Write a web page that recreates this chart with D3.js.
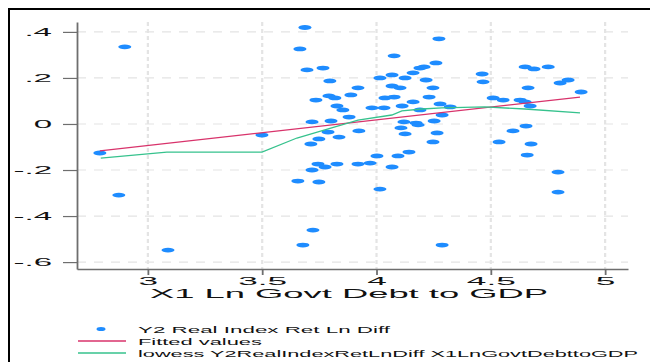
<!DOCTYPE html>
<html>
<head>
<meta charset="utf-8">
<script src="https://cdn.jsdelivr.net/npm/d3@7"></script>
<style>
  body { margin: 0; background: #fff; }
  text { font-family: "Liberation Sans", Arial, sans-serif; }
</style>
</head>
<body>
<div id="chart"></div>
<script>
////////// Data //////////

// scatter: X1 Ln Govt Debt to GDP vs Y2 Real Index Ret Ln Diff
var scatterX = [2.790, 2.899, 2.873, 3.088, 3.499,
  3.687, 3.665, 4.273, 4.077, 3.696, 3.766, 3.796, 4.015, 4.068, 4.125,
  4.160, 4.190, 4.208, 4.260, 4.217, 3.919, 3.888, 4.068, 4.103, 4.247,
  3.735, 3.792, 3.818, 4.037, 4.077, 4.230, 3.827, 3.853, 3.980, 4.033,
  4.112, 4.160, 4.278, 4.190, 3.880, 3.718, 3.801, 3.923, 3.788, 4.120,
  4.173, 4.182, 4.107, 4.252, 4.125, 4.265, 3.748, 3.836, 3.713, 4.247,
  4.142, 4.002, 4.094, 3.744, 3.775, 3.827, 3.919, 3.972, 4.068, 3.718,
  3.656, 3.748, 4.015, 3.722, 3.678, 4.287,
  4.462, 4.466, 4.650, 4.689, 4.751, 4.663, 4.838, 4.803, 4.895, 4.510,
  4.554, 4.628, 4.650, 4.672, 4.322, 4.287, 4.597, 4.654, 4.536, 4.676,
  4.659, 4.794, 4.794]
var scatterY = [-0.126, 0.335, -0.309, -0.548, -0.048,
  0.419, 0.326, 0.370, 0.296, 0.235, 0.243, 0.187, 0.200, 0.213, 0.200,
  0.222, 0.243, 0.248, 0.265, 0.191, 0.157, 0.126, 0.165, 0.157, 0.157,
  0.104, 0.122, 0.113, 0.113, 0.117, 0.117, 0.078, 0.061, 0.070, 0.070,
  0.078, 0.096, 0.087, 0.061, 0.030, 0.009, 0.013, -0.030, -0.035, 0.009,
  0.004, -0.004, -0.017, 0.013, -0.043, -0.039, -0.065, -0.057, -0.087, -0.078,
  -0.122, -0.139, -0.139, -0.174, -0.187, -0.174, -0.174, -0.170, -0.187, -0.200,
  -0.248, -0.252, -0.283, -0.461, -0.526, -0.526,
  0.217, 0.183, 0.248, 0.239, 0.248, 0.157, 0.191, 0.178, 0.139, 0.113,
  0.104, 0.104, 0.096, 0.078, 0.074, 0.039, -0.030, -0.009, -0.078, -0.087,
  -0.135, -0.209, -0.296]

// fitted values (straight line, end points)
var fitX = [2.79, 4.89]
var fitY = [-0.117, 0.117]

// lowess curve
var lowessX = [2.794, 3.083, 3.499, 3.652, 3.774, 3.919, 4.067, 4.111, 4.199, 4.286, 4.474, 4.649, 4.890]
var lowessY = [-0.148, -0.122, -0.122, -0.061, -0.026, 0.017, 0.039, 0.057, 0.065, 0.070, 0.074, 0.065, 0.048]

var xTicks = [3, 3.5, 4, 4.5, 5]
var yTicks = [0.4, 0.2, 0, -0.2, -0.4, -0.6]
var xTitle = "X1 Ln Govt Debt to GDP"
var legendLabels = ["Y2 Real Index Ret Ln Diff", "Fitted values",
  "lowess Y2RealIndexRetLnDiff X1LnGovtDebttoGDP"]

////////// Drawing //////////

var width = 650, height = 362
var dotColor = "#1e8cff", fitColor = "#d8336b", lowColor = "#36c28d"
var axisColor = "#6e6e6e", gridColor = "#e4e4e4"

var svg = d3.select("#chart").append("svg")
  .attr("width", width)
  .attr("height", height)

svg.append("rect").attr("width", width).attr("height", height).attr("fill", "#fff")

// outer frame (only top and left are visible)
svg.append("rect")
  .attr("x", 9).attr("y", 9)
  .attr("width", 700).attr("height", 400)
  .attr("fill", "none")
  .attr("stroke", "#000")
  .attr("stroke-width", 2)

var x = d3.scaleLinear().domain([2.69, 5.10]).range([77, 628])
var y = d3.scaleLinear().domain([-0.63, 0.443]).range([269, 22])

// stretch a text horizontally (the source picture is widened)
function stretch(sel, k) {
  sel.each(function() {
    var len = this.getComputedTextLength()
    d3.select(this).attr("textLength", len * k).attr("lengthAdjust", "spacingAndGlyphs")
  })
}

// grid
svg.append("g").selectAll("line")
  .data(yTicks)
  .enter().append("line")
  .attr("x1", x.range()[0]).attr("x2", x.range()[1])
  .attr("y1", function(d) { return y(d) }).attr("y2", function(d) { return y(d) })
  .attr("stroke", gridColor).attr("stroke-width", 1.2)
  .attr("stroke-dasharray", "9,8")

svg.append("g").selectAll("line")
  .data(xTicks)
  .enter().append("line")
  .attr("x1", function(d) { return x(d) }).attr("x2", function(d) { return x(d) })
  .attr("y1", y.range()[1]).attr("y2", y.range()[0])
  .attr("stroke", gridColor).attr("stroke-width", 2.2)
  .attr("stroke-dasharray", "4,3")

function fmt(d) {
  if (d == 0) return "0"
  var s = d3.format(".1f")(Math.abs(d)).replace(/^0/, "")
  return (d < 0 ? "-" : "") + s
}

// y axis
var yAxis = svg.append("g")
  .attr("transform", "translate(" + x.range()[0] + ",0)")
  .call(d3.axisLeft(y).tickValues(yTicks).tickFormat(fmt).tickSize(14).tickSizeOuter(0).tickPadding(11))
yAxis.select(".domain").attr("stroke", axisColor).attr("stroke-width", 1.8)
yAxis.selectAll(".tick line").attr("stroke", axisColor).attr("stroke-width", 1.2)
yAxis.selectAll(".tick text")
  .attr("fill", "#111").style("font-size", "11px")
  .call(stretch, 3.0)

// x axis
var xAxis = svg.append("g")
  .attr("transform", "translate(0," + y.range()[0] + ")")
  .call(d3.axisBottom(x).tickValues(xTicks).tickFormat(function(d) { return String(d) })
    .tickSize(6).tickSizeOuter(0).tickPadding(2))
xAxis.select(".domain").attr("stroke", axisColor).attr("stroke-width", 1.3)
xAxis.selectAll(".tick line").attr("stroke", axisColor).attr("stroke-width", 1.8)
xAxis.selectAll(".tick text")
  .attr("fill", "#111").style("font-size", "11px")
  .call(stretch, 3.2)

// axis title
svg.append("text")
  .attr("x", 349).attr("y", 298)
  .attr("text-anchor", "middle")
  .style("font-size", "13px")
  .attr("fill", "#111")
  .text(xTitle)
  .attr("textLength", 398).attr("lengthAdjust", "spacingAndGlyphs")

// scatter
svg.append("g").selectAll("ellipse")
  .data(d3.range(scatterX.length))
  .enter().append("ellipse")
  .attr("cx", function(i) { return x(scatterX[i]) })
  .attr("cy", function(i) { return y(scatterY[i]) })
  .attr("rx", 6.5).attr("ry", 2.4)
  .attr("fill", dotColor)

// fitted line
var line = d3.line()
  .x(function(d) { return x(d[0]) })
  .y(function(d) { return y(d[1]) })

svg.append("path")
  .datum(d3.zip(fitX, fitY))
  .attr("d", line)
  .attr("fill", "none").attr("stroke", fitColor).attr("stroke-width", 1.3)

svg.append("path")
  .datum(d3.zip(lowessX, lowessY))
  .attr("d", line)
  .attr("fill", "none").attr("stroke", lowColor).attr("stroke-width", 1.3)

// legend
var lg = svg.append("g")
lg.append("ellipse").attr("cx", 101).attr("cy", 329).attr("rx", 4.5).attr("ry", 2).attr("fill", dotColor)
lg.append("line").attr("x1", 78).attr("x2", 126).attr("y1", 341).attr("y2", 341)
  .attr("stroke", fitColor).attr("stroke-width", 1.3)
lg.append("line").attr("x1", 78).attr("x2", 126).attr("y1", 353).attr("y2", 353)
  .attr("stroke", lowColor).attr("stroke-width", 1.3)

var legendLen = [252, 124, 500]
lg.selectAll("text.lab")
  .data(legendLabels)
  .enter().append("text")
  .attr("class", "lab")
  .attr("x", 138)
  .attr("y", function(d, i) { return 333 + i * 11.8 })
  .style("font-size", "9.5px")
  .attr("fill", "#111")
  .text(function(d) { return d })
  .attr("textLength", function(d, i) { return legendLen[i] })
  .attr("lengthAdjust", "spacingAndGlyphs")
</script>
</body>
</html>
